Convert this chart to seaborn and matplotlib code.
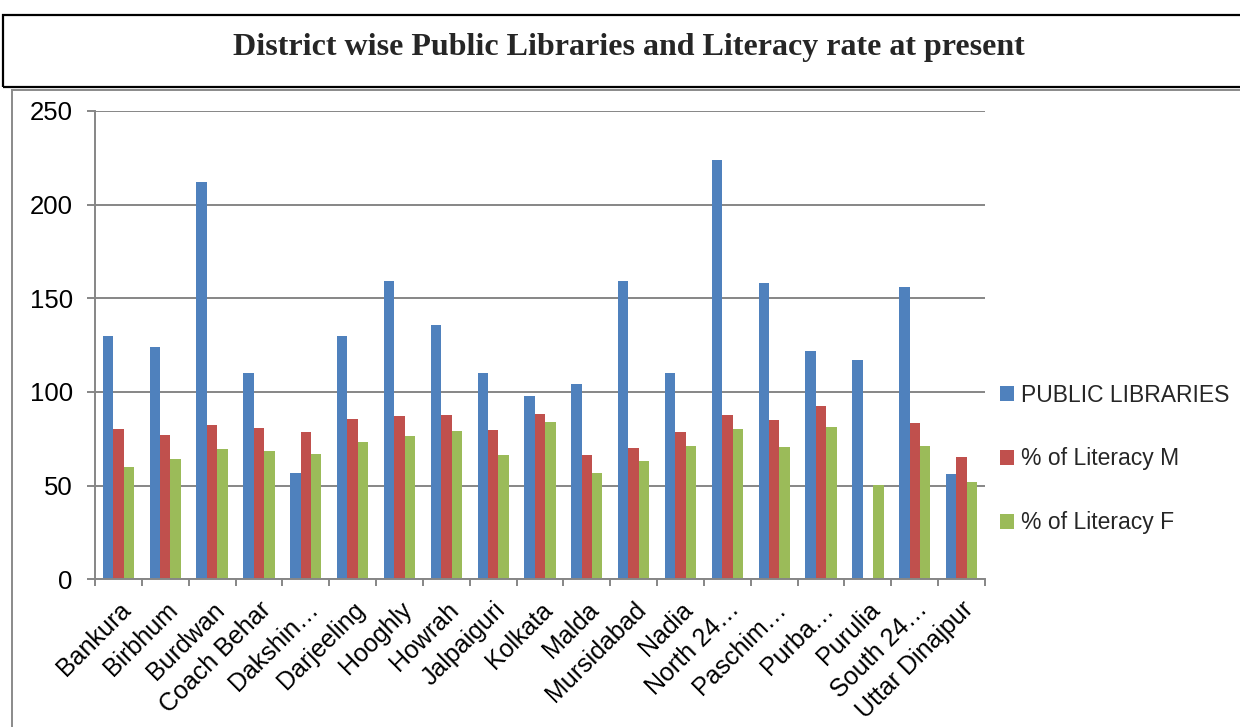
import numpy as np
import pandas as pd
import matplotlib
matplotlib.use("Agg")
import matplotlib.pyplot as plt
from matplotlib.patches import Rectangle, Patch
import seaborn as sns

districts = ["Bankura", "Birbhum", "Burdwan", "Coach Behar", "Dakshin…", "Darjeeling",
             "Hooghly", "Howrah", "Jalpaiguri", "Kolkata", "Malda", "Mursidabad",
             "Nadia", "North 24…", "Paschim…", "Purba…", "Purulia", "South 24…",
             "Uttar Dinajpur"]
public_libraries = [130, 124, 212, 110, 57, 130, 159, 136, 110, 98, 104, 159,
                    110, 224, 158, 122, 117, 156, 56]
literacy_m = [80.05, 76.92, 82.42, 80.71, 78.37, 85.61, 87.06, 87.96, 79.95, 88.34,
              66.24, 69.95, 78.75, 87.61, 85.26, 92.32, np.nan, 83.35, 65.52]
literacy_f = [60.05, 64.14, 69.63, 68.49, 67.01, 73.33, 76.36, 79.43, 66.23, 84.06,
              56.96, 63.09, 70.98, 80.34, 70.50, 81.37, 50.52, 71.40, 52.17]
series_names = ["PUBLIC LIBRARIES", "% of Literacy M", "% of Literacy F"]
series_colors = ["#4F81BD", "#C0504D", "#9BBB59"]
y_ticks = [0, 50, 100, 150, 200, 250]
title = "District wise Public Libraries and Literacy rate at present"

sns.set_theme(style="white")
plt.rcParams["font.family"] = ["Liberation Sans", "DejaVu Sans"]

df = pd.DataFrame({
    "district": districts * 3,
    "series": sum([[s] * len(districts) for s in series_names], []),
    "value": public_libraries + literacy_m + literacy_f,
})

fig = plt.figure(figsize=(12.4, 7.27), dpi=100)
ax = fig.add_axes([95 / 1240, 1 - 579.3 / 727, (985 - 95) / 1240, (579.3 - 111) / 727])

sns.barplot(data=df, x="district", y="value", hue="series", order=districts,
            hue_order=series_names, palette=series_colors, width=0.667,
            errorbar=None, saturation=1, linewidth=0, ax=ax, legend=False)

grid_col = "#868686"
ax.set_xlim(-0.5, len(districts) - 0.5)
ax.set_ylim(0, 250)
ax.set_yticks(y_ticks)
ax.yaxis.grid(True, color=grid_col, linewidth=1.4)
ax.set_axisbelow(True)
ax.set_xlabel("")
ax.set_ylabel("")
for s in ["top", "right"]:
    ax.spines[s].set_visible(False)
for s in ["left", "bottom"]:
    ax.spines[s].set_color(grid_col)
    ax.spines[s].set_linewidth(1.4)

ax.tick_params(axis="y", which="major", length=6, width=1.4, color=grid_col,
               pad=10, labelsize=18.5, labelcolor="black", left=True)
ax.set_xticks(np.arange(len(districts)))
ax.set_xticklabels(districts, rotation=45, ha="right", rotation_mode="anchor")
ax.tick_params(axis="x", which="major", length=0, pad=13, labelsize=18,
               labelcolor="black")
ax.set_xticks(np.arange(-0.5, len(districts)), minor=True)
ax.tick_params(axis="x", which="minor", length=5, width=1.4, color=grid_col,
               bottom=True)

handles = [Patch(facecolor=c, edgecolor="none") for c in series_colors]
fig.legend(handles, series_names, loc="center left",
           bbox_to_anchor=(979 / 1240, 1 - 459 / 727), frameon=False,
           fontsize=16.5, handlelength=0.62, handleheight=0.62,
           handletextpad=0.3, labelspacing=1.78)

# framed title band and chart frame
fig.patches.append(Rectangle((3 / 1240, 1 - 87 / 727), 1.2, (87 - 15) / 727,
                             transform=fig.transFigure, fill=False,
                             edgecolor="black", linewidth=1.6, zorder=5))
fig.patches.append(Rectangle((12 / 1240, -0.2), 1.2, 1.2 - 90 / 727,
                             transform=fig.transFigure, fill=False,
                             edgecolor="#8a8a8a", linewidth=1.4, zorder=5))
fig.text(629 / 1240, 1 - 47 / 727, title, ha="center", va="center",
         fontsize=23, fontweight="bold", family=["Liberation Serif", "DejaVu Serif"])

fig.savefig("out.png", dpi=100)
